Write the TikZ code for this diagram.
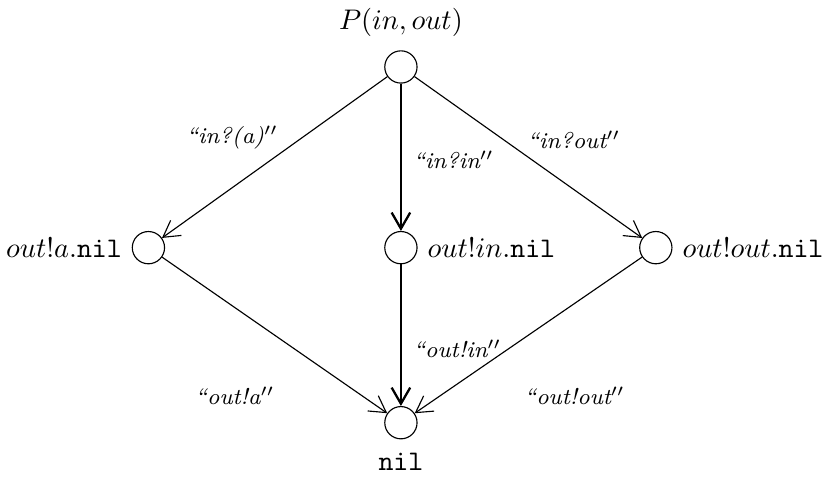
\documentclass[tikz,border=0pt]{standalone}
\usetikzlibrary{arrows.meta,positioning}

\tikzset{
  state/.style={circle, draw, thin, minimum size=4mm, inner sep=0pt},
  trans/.style={thin, -{Straight Barb[length=2mm,width=2.3mm]}},
  act/.style={font=\footnotesize\itshape, inner sep=1pt},
}

\begin{document}
\begin{tikzpicture}
    \useasboundingbox (-4.97,0.83) rectangle (5.22,-5.37);
    % states
    \node [state, label={[label distance=.5mm]above:$P(in,out)$}] (P) at (0,0) {};
    \node [state, label=left:{$out!a.\mathtt{nil}$}] (Pa) at (-3.13,-2.24) {};
    \node [state, label=right:{$out!in.\mathtt{nil}$}] (Pin) at (0,-2.24) {};
    \node [state, label=right:{$out!out.\mathtt{nil}$}] (Pout) at (3.16,-2.24) {};
    \node [state, label={[label distance=.5mm]below:$\mathtt{nil}$}] (nil) at (0,-4.41) {};
    % transitions
    \draw [trans] (P) -- (Pa) node [act, pos=.47, above left=0pt and 0pt] {``in?(a)$''$};
    \draw [trans, thick] (P) -- (Pin) node [act, pos=.52, right=3pt] {``in?in$''$};
    \draw [trans] (P) -- (Pout) node [act, pos=.47, above right=0pt and .03cm] {``in?out$''$};
    \draw [trans] (Pa) -- (nil) node [act, pos=.55, below left=.5cm and .1cm] {``out!a$''$};
    \draw [trans, thick] (Pin) -- (nil) node [act, pos=.6, right=3pt] {``out!in$''$};
    \draw [trans] (Pout) -- (nil) node [act, pos=.55, below right=.5cm and .05cm] {``out!out$''$};
\end{tikzpicture}
\end{document}
